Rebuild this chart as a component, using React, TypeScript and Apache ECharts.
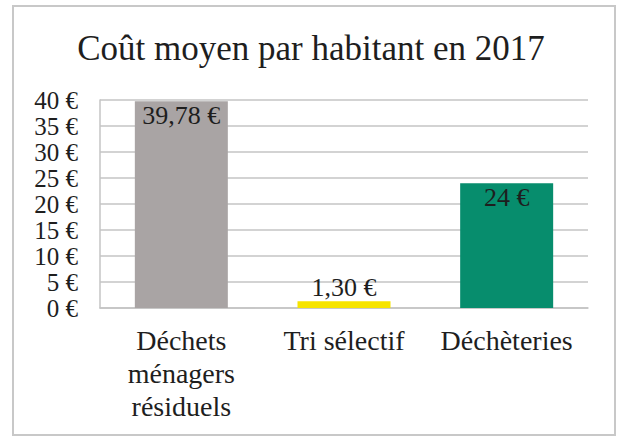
import React, { useEffect, useRef } from "react";
import * as echarts from "echarts";

const titleText = "Coût moyen par habitant en 2017";
const categories = ["Déchets\nménagers\nrésiduels", "Tri sélectif", "Déchèteries"];
const values = [39.78, 1.3, 24];
const valueLabels = ["39,78 €", "1,30 €", "24 €"];
const barColors = ["#a9a4a4", "#f6e400", "#078d6d"];
const labelPositions = ["insideTop", "top", "insideTop"];
const yMin = 0;
const yMax = 40;
const yStep = 5;

const FONT = "'Liberation Serif', 'Times New Roman', serif";
const TEXT = "#1e1e1e";
const GRID = "#c4c4c4";

export default function App() {
  const ref = useRef<HTMLDivElement>(null);
  useEffect(() => {
    if (!ref.current) return;
    const chart = echarts.init(ref.current, null, { renderer: "svg" });
    chart.setOption({
      animation: false,
      backgroundColor: "#ffffff",
      title: {
        text: titleText,
        left: "center",
        top: 31,
        padding: 0,
        textStyle: { fontFamily: FONT, fontSize: 35, fontWeight: "normal", color: TEXT },
      },
      graphic: [
        {
          type: "rect",
          shape: { x: 13, y: 6, width: 602, height: 429 },
          style: { fill: "none", stroke: "#c8c8c8", lineWidth: 2 },
          silent: true,
        },
      ],
      grid: { left: 100, right: 34, top: 100, bottom: 129, containLabel: false },
      xAxis: {
        type: "category",
        data: categories,
        axisLine: { show: true, lineStyle: { color: GRID, width: 1.5 } },
        axisTick: { show: false },
        axisLabel: {
          interval: 0,
          margin: 16,
          fontFamily: FONT,
          fontSize: 28,
          lineHeight: 33,
          color: TEXT,
        },
      },
      yAxis: {
        type: "value",
        min: yMin,
        max: yMax,
        interval: yStep,
        axisLine: { show: true, lineStyle: { color: GRID, width: 1.5 } },
        axisTick: { show: false },
        splitLine: { show: true, lineStyle: { color: GRID, width: 1.5 } },
        axisLabel: {
          margin: 22,
          formatter: (v: number) => `${v} €`,
          fontFamily: FONT,
          fontSize: 25,
          color: TEXT,
        },
      },
      series: [
        {
          type: "bar",
          barWidth: 93,
          data: values.map((v, i) => ({
            value: v,
            itemStyle: { color: barColors[i] },
            label: {
              show: true,
              position: labelPositions[i],
              distance: 1,
              formatter: () => valueLabels[i],
              fontFamily: FONT,
              fontSize: 26,
              color: TEXT,
            },
          })),
        },
      ],
    });
    return () => chart.dispose();
  }, []);
  return (
    <div
      ref={ref}
      style={{ position: "fixed", left: 0, top: 0, width: 622, height: 437, background: "#fff" }}
    />
  );
}
